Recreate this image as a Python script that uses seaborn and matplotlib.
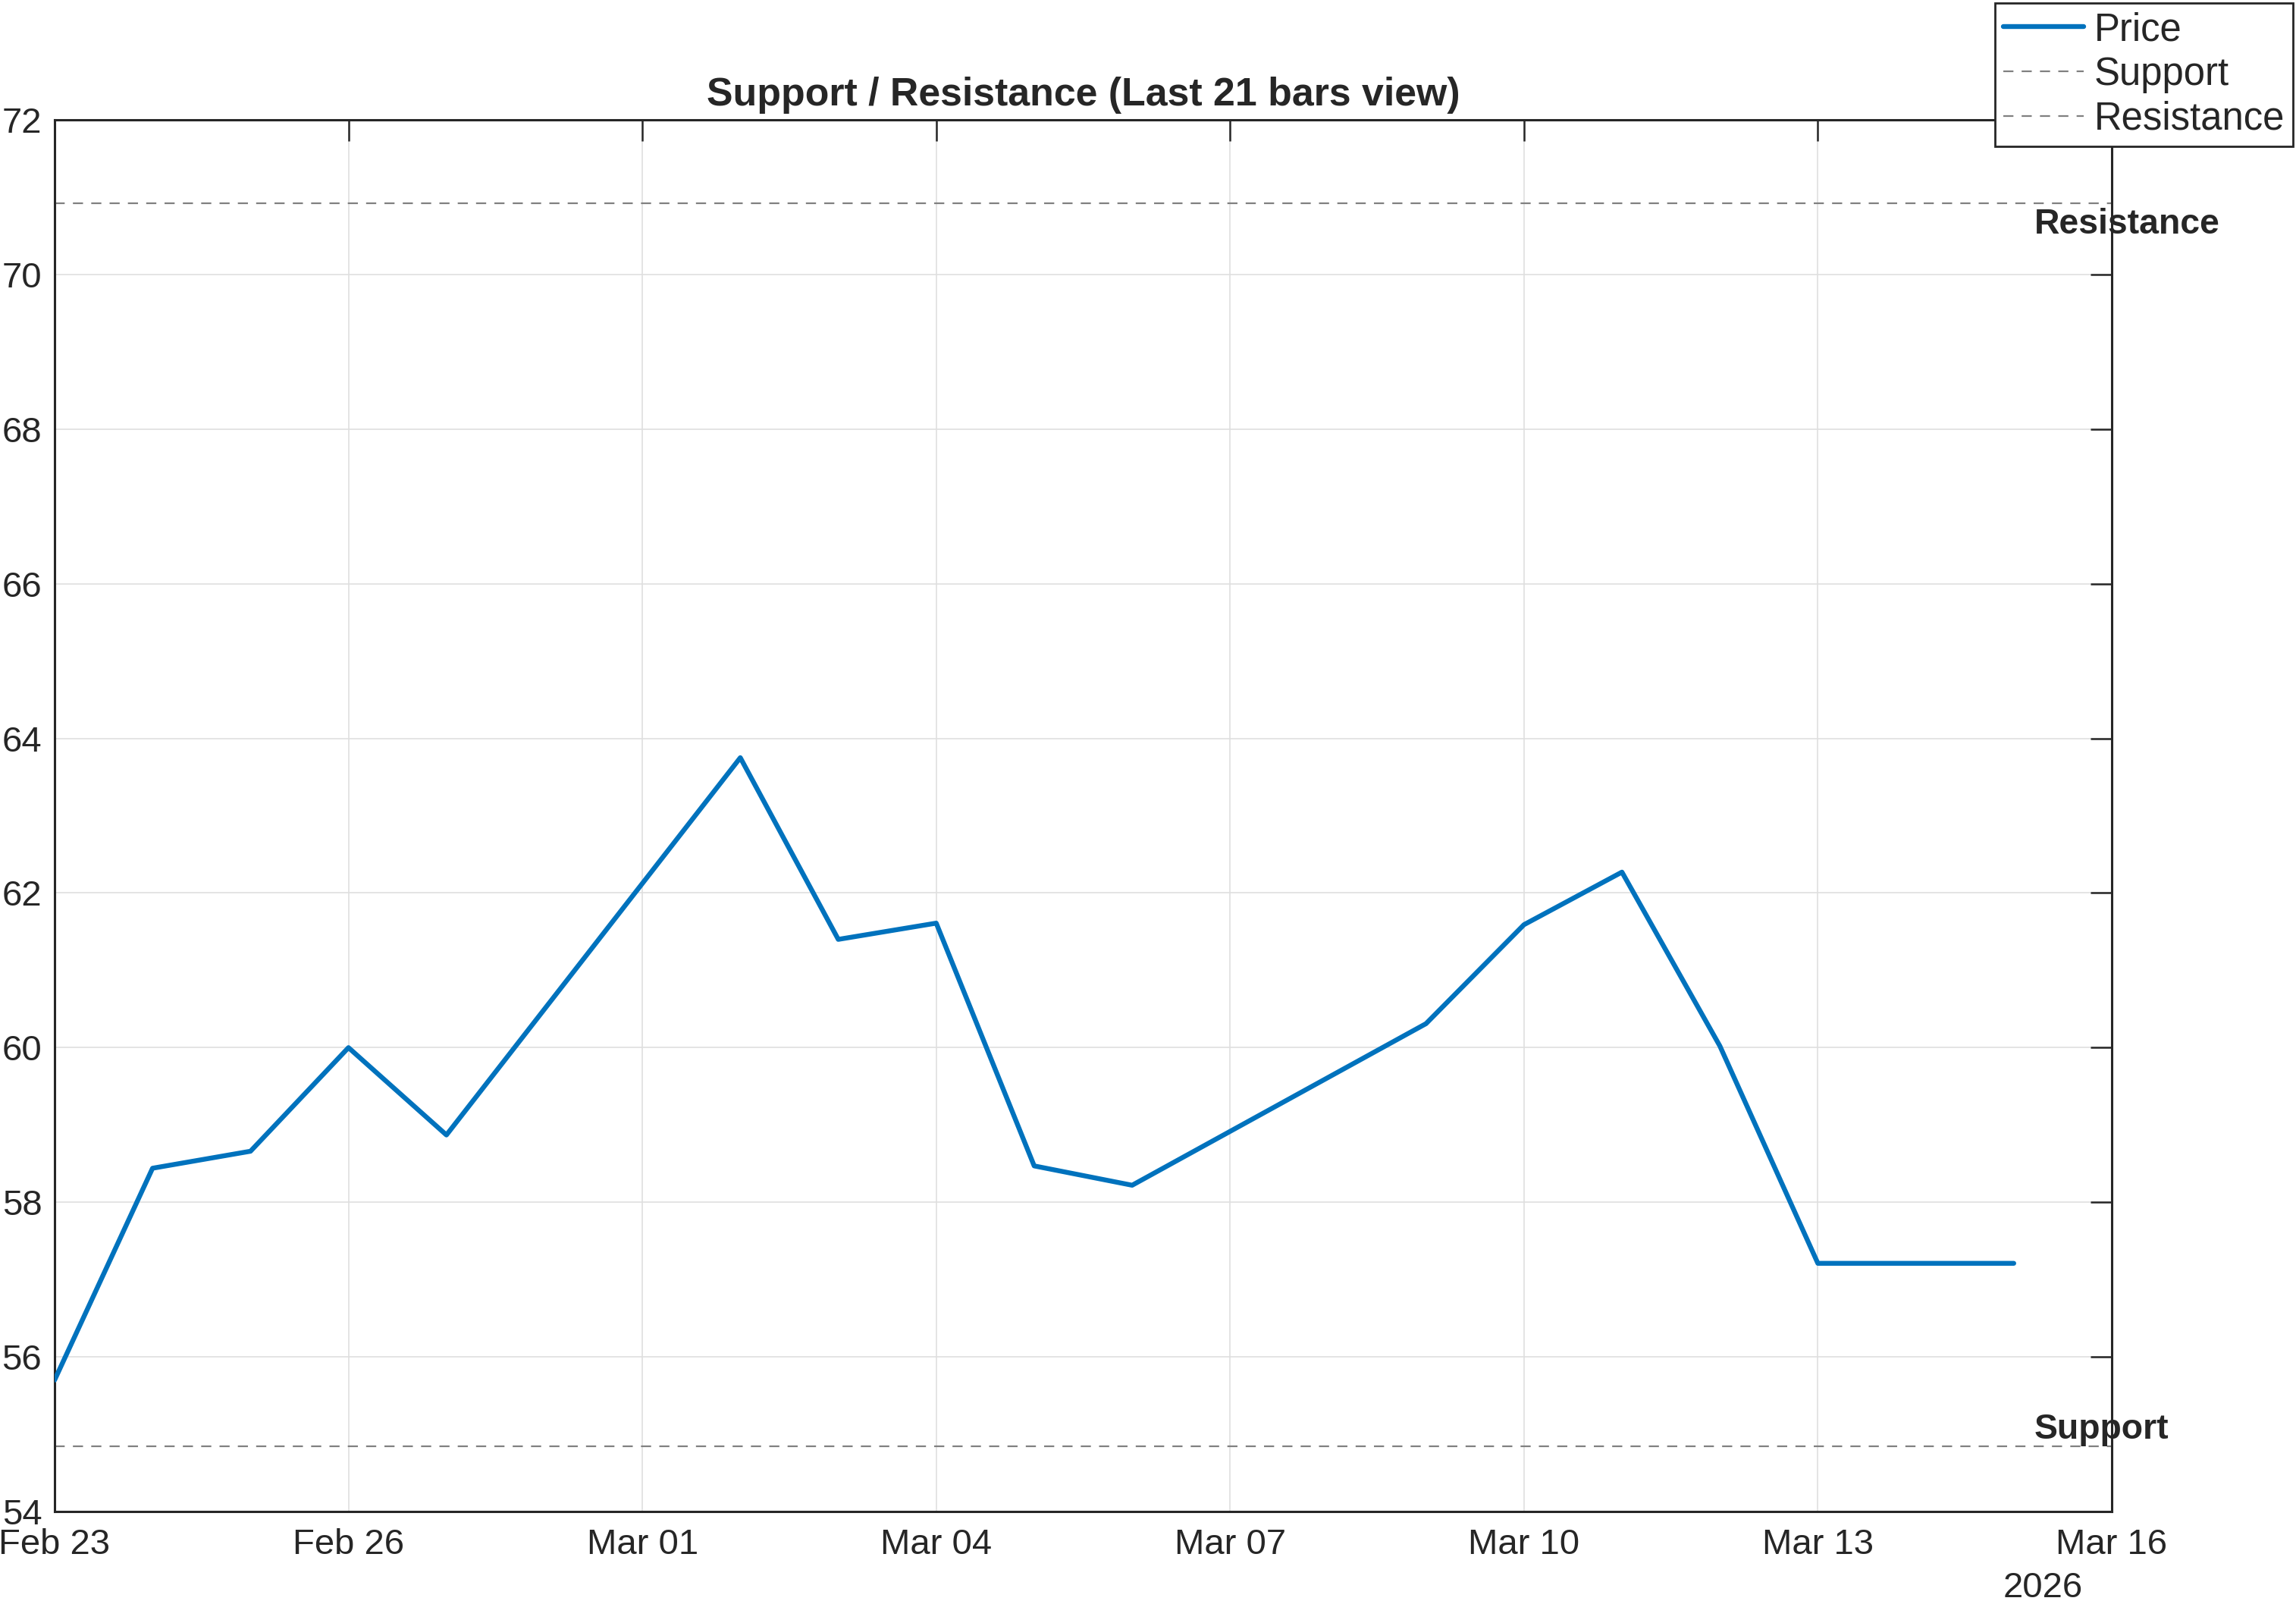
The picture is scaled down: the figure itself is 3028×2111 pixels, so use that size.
import matplotlib
matplotlib.use("Agg")
import matplotlib.pyplot as plt
import matplotlib.dates as mdates
import seaborn as sns
import pandas as pd

# ---- data ----
dates = ["2026-02-23", "2026-02-24", "2026-02-25", "2026-02-26", "2026-02-27",
         "2026-03-02", "2026-03-03", "2026-03-04", "2026-03-05", "2026-03-06",
         "2026-03-09", "2026-03-10", "2026-03-11", "2026-03-12", "2026-03-13",
         "2026-03-14", "2026-03-15"]
price = [55.70, 58.44, 58.66, 60.00, 58.87,
         63.75, 61.40, 61.61, 58.47, 58.22,
         60.31, 61.59, 62.27, 60.02, 57.21,
         57.21, 57.21]
support_level = 54.84
resistance_level = 70.92
tick_dates = ["2026-02-23", "2026-02-26", "2026-03-01", "2026-03-04",
              "2026-03-07", "2026-03-10", "2026-03-13", "2026-03-16"]
y_ticks = [54, 56, 58, 60, 62, 64, 66, 68, 70, 72]
title = "Support / Resistance (Last 21 bars view)"
year_label = "2026"

df = pd.DataFrame({"Date": pd.to_datetime(dates), "Price": price})

sns.set_theme(style="white")
plt.rcParams["font.family"] = ["Liberation Sans", "DejaVu Sans"]

DARK = "#262626"
fs = 17

fig = plt.figure(figsize=(3028 / 200, 2111 / 200), dpi=200)
ax = fig.add_axes([72 / 3028, 1 - 1993 / 2111, (2785 - 72) / 3028, (1993 - 158) / 2111])

sns.lineplot(data=df, x="Date", y="Price", ax=ax, color="#0072BD", linewidth=2.3,
             label="Price", zorder=3)
lw_d = 0.8
ax.axhline(support_level, color="#808080", linewidth=lw_d,
           linestyle=(0, (4.8 / lw_d, 3.9 / lw_d)), label="Support", zorder=2)
ax.axhline(resistance_level, color="#808080", linewidth=lw_d,
           linestyle=(0, (4.8 / lw_d, 3.9 / lw_d)), label="Resistance", zorder=2)

xmin = pd.Timestamp(tick_dates[0])
xmax = pd.Timestamp(tick_dates[-1])
ax.set_xlim(xmin, xmax)
ax.set_ylim(y_ticks[0], y_ticks[-1])
ax.set_xticks(pd.to_datetime(tick_dates))
ax.xaxis.set_major_formatter(mdates.DateFormatter("%b %d"))
ax.set_yticks(y_ticks)
ax.set_xlabel("")
ax.set_ylabel("")

ax.grid(True, color="#dfdfdf", linewidth=0.6)
ax.set_axisbelow(True)
for s in ax.spines.values():
    s.set_visible(True)
    s.set_color(DARK)
    s.set_linewidth(1.1)
ax.tick_params(axis="both", which="major", direction="in", length=10, width=0.9,
               color=DARK, labelcolor=DARK, labelsize=fs,
               top=True, right=True)
ax.tick_params(axis="x", pad=8)
ax.tick_params(axis="y", pad=6)

ax.set_title(title, fontsize=18.7, fontweight="bold", color=DARK, pad=7)

# level labels
last_date = pd.Timestamp(dates[-1]) + pd.Timedelta(hours=5)
ax.annotate("Resistance", xy=(last_date, resistance_level), xytext=(0, -2),
            textcoords="offset points", fontsize=16.7, fontweight="bold",
            color=DARK, va="top", ha="left", zorder=5, annotation_clip=False)
ax.annotate("Support", xy=(last_date, support_level), xytext=(0, 0),
            textcoords="offset points", fontsize=16.7, fontweight="bold",
            color=DARK, va="bottom", ha="left", zorder=5, annotation_clip=False)

# year label
fig.text(2694 / 3028, 5 / 2111, year_label, fontsize=fs, color=DARK,
         ha="center", va="baseline")

leg = ax.legend(loc="upper right", bbox_to_anchor=(3024 / 3028, 1 - 4 / 2111),
                bbox_transform=fig.transFigure, borderaxespad=0, fontsize=18.3,
                frameon=True, fancybox=False, handlelength=2.08, handletextpad=0.27,
                labelspacing=0.19, borderpad=0.22)
leg.get_frame().set_edgecolor(DARK)
leg.get_frame().set_linewidth(1.0)
leg.get_frame().set_facecolor("white")
leg.get_frame().set_alpha(1)
for t in leg.get_texts():
    t.set_color(DARK)

fig.savefig("out.png", dpi=200)
